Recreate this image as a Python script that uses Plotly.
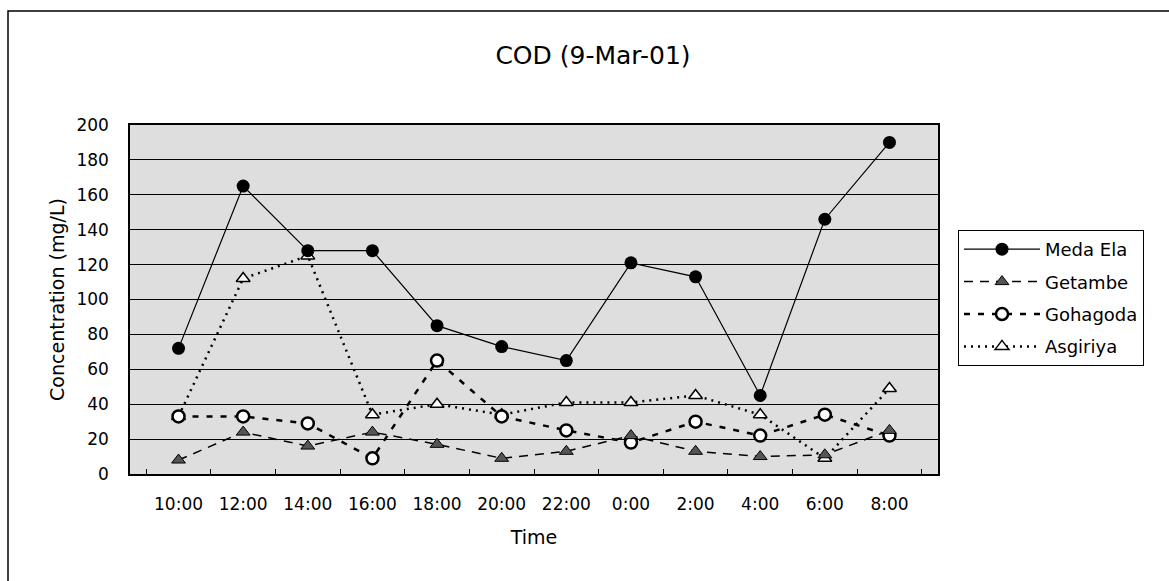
import plotly.graph_objects as go

times = ["10:00", "12:00", "14:00", "16:00", "18:00", "20:00", "22:00",
         "0:00", "2:00", "4:00", "6:00", "8:00"]
meda_ela = [72, 165, 128, 128, 85, 73, 65, 121, 113, 45, 146, 190]
getambe = [8, 24, 16, 24, 17, 9, 13, 22, 13, 10, 11, 25]
gohagoda = [33, 33, 29, 9, 65, 33, 25, 18, 30, 22, 34, 22]
asgiriya = [33, 112, 125, 34, 40, 34, 41, 41, 45, 34, 9, 49]
y_ticks = [0, 20, 40, 60, 80, 100, 120, 140, 160, 180, 200]

FONT = "DejaVu Sans"

fig = go.Figure()
fig.add_trace(go.Scatter(
    x=times, y=asgiriya, name="Asgiriya", mode="lines+markers",
    legendgroup="d", legendrank=4,
    line=dict(color="black", width=2.5, dash="2px,5px"),
    marker=dict(symbol="triangle-up", size=12, color="white",
                line=dict(color="black", width=1.5))))
fig.add_trace(go.Scatter(
    x=times, y=gohagoda, name="Gohagoda", mode="lines+markers",
    legendgroup="c", legendrank=3,
    line=dict(color="black", width=2.5, dash="6px,8px"),
    marker=dict(symbol="circle", size=12, color="white",
                line=dict(color="black", width=2.5))))
fig.add_trace(go.Scatter(
    x=times, y=getambe, name="Getambe", mode="lines+markers",
    legendgroup="b", legendrank=2,
    line=dict(color="black", width=1.5, dash="9px,7px"),
    marker=dict(symbol="triangle-up", size=12, color="#555555",
                line=dict(color="black", width=1))))
fig.add_trace(go.Scatter(
    x=times, y=meda_ela, name="Meda Ela", mode="lines+markers",
    legendgroup="a", legendrank=1,
    line=dict(color="black", width=1.2),
    marker=dict(symbol="circle", size=13, color="black")))

W, H = 1169, 581
L, R, T, B = 130, 938, 125, 474
pw, ph = R - L, B - T

def px(x):
    return (x - L) / pw

def py(y):
    return (B - y) / ph

fig.update_layout(
    width=W, height=H,
    margin=dict(l=L, r=W - R, t=T, b=H - B, pad=0),
    paper_bgcolor="white",
    plot_bgcolor="#dedede",
    font=dict(family=FONT, color="black", size=17),
    title=dict(text="COD (9-Mar-01)", x=593 / W, xanchor="center",
               y=1 - 55 / H, yanchor="middle",
               font=dict(family=FONT, size=25, color="black")),
    showlegend=True,
    legend=dict(x=px(958), y=py(230),
                xanchor="left", yanchor="top",
                bordercolor="black", borderwidth=1, bgcolor="white",
                font=dict(family=FONT, size=18, color="black"),
                itemwidth=76, tracegroupgap=6),
    xaxis=dict(type="category", categoryorder="array", categoryarray=times,
               showline=True, linecolor="black", linewidth=1.5, mirror=True,
               tickson="boundaries", ticks="inside", ticklen=5,
               tickcolor="black", showgrid=False,
               ticklabelstandoff=14,
               tickfont=dict(family=FONT, size=17),
               title=dict(text="Time", standoff=18,
                          font=dict(family=FONT, size=19))),
    yaxis=dict(range=[0, 200], tickvals=y_ticks, showline=True,
               linecolor="black", linewidth=1.5, mirror=True,
               showgrid=True, gridcolor="black", gridwidth=1,
               zeroline=False, ticks="", ticklabelstandoff=16,
               tickfont=dict(family=FONT, size=17),
               title=dict(text="Concentration (mg/L)", standoff=7,
                          font=dict(family=FONT, size=19))),
    shapes=[dict(type="path", xref="paper", yref="paper",
                 path=f"M {px(8)},{py(H + 5)} L {px(8)},{py(11)} L {px(W + 5)},{py(11)}",
                 line=dict(color="black", width=1.5))],
)

fig.write_html("out.html")
